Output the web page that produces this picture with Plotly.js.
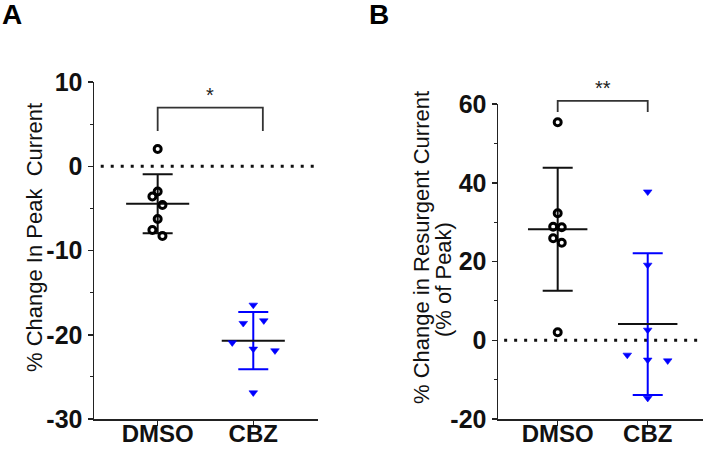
<!DOCTYPE html>
<html>
<head>
<meta charset="utf-8">
<script src="https://cdn.plot.ly/plotly-3.0.1.min.js"></script>
<style>html,body{margin:0;padding:0;background:#fff}#chart{width:709px;height:449px}</style>
</head>
<body>
<div id="chart"></div>
<script>
// ---- data ----
const categories = ["DMSO", "CBZ"];

// Panel A: % change in peak current
const peakDMSO = [2.05, -3.0, -3.6, -4.6, -6.26, -7.57, -8.28];
const peakDMSOJitter = [0, 0, -0.055, 0.05, 0, -0.055, 0.05];
const peakCBZ = [-16.47, -18.64, -18.33, -20.94, -21.69, -21.89, -26.88];
const peakCBZJitter = [0, -0.105, 0.11, -0.22, 0, 0.227, 0];
const peakMean = [-4.45, -20.7];
const peakSD = [3.5, 3.4];
const peakRange = [-30, 10];
const peakTicks = [-30, -20, -10, 0, 10];
const peakBracketX = [1, 2.1];
const peakBracketY = [6.95, 4.18];
const peakStarY = 8.5;
const peakStar = "*";

// Panel B: % change in resurgent current (% of peak)
const resDMSO = [55.35, 32.24, 28.84, 28.69, 25.89, 24.77, 2.02];
const resDMSOJitter = [0, 0, -0.05, 0.045, -0.05, 0.045, 0];
const resCBZ = [37.7, 19.1, 2.6, -3.75, -5.0, -5.2, -14.7];
const resCBZJitter = [0, 0, 0, -0.227, 0, 0.222, 0];
const resMean = [28.2, 4.1];
const resSD = [15.6, 18.0];
const resRange = [-20, 60];
const resTicks = [-20, 0, 20, 40, 60];
const resBracketX = [1, 2];
const resBracketY = [60.8, 58.0];
const resStarY = 64.0;
const resStar = "**";

// ---- helpers ----
const W = 709, H = 449;
const px = v => v / W;
const py = v => 1 - v / H;
const FONT = "Liberation Sans, Arial, Helvetica, sans-serif";
const AX = "#222";
const BLUE = "#0000ff";
const MEANHALF = 0.33;
const frac = (v, r) => (v - r[0]) / (r[1] - r[0]);

function summaryTrace(i, means, sds, color, xa, ya) {
  return {
    type: "scatter", mode: "markers", x: [i + 1], y: [means[i]],
    xaxis: xa, yaxis: ya, hoverinfo: "skip", showlegend: false,
    marker: {size: 1, color: "rgba(0,0,0,0)"},
    error_y: {type: "data", array: [sds[i]], visible: true, color: color, thickness: 2, width: 15},
    error_x: {type: "data", array: [MEANHALF], visible: true, color: "#111", thickness: 2, width: 0},
    cliponaxis: false
  };
}
function pointsTrace(cat, vals, jit, symbol, color, xa, ya) {
  const open = symbol.indexOf("open") >= 0;
  return {
    type: "scatter", mode: "markers",
    x: vals.map((v, k) => cat + jit[k]), y: vals,
    xaxis: xa, yaxis: ya, showlegend: false, cliponaxis: false,
    marker: open ? {symbol: symbol, size: 7, color: color, line: {width: 3, color: color}}
                 : {symbol: symbol, size: 7.5, color: color, line: {width: 0.6, color: color}}
  };
}

const data = [
  summaryTrace(0, peakMean, peakSD, "#111", "x", "y"),
  summaryTrace(1, peakMean, peakSD, BLUE, "x", "y"),
  pointsTrace(1, peakDMSO, peakDMSOJitter, "circle-open", "#000", "x", "y"),
  pointsTrace(2, peakCBZ, peakCBZJitter, "triangle-down", BLUE, "x", "y"),
  summaryTrace(0, resMean, resSD, "#111", "x2", "y2"),
  summaryTrace(1, resMean, resSD, BLUE, "x2", "y2"),
  pointsTrace(1, resDMSO, resDMSOJitter, "circle-open", "#000", "x2", "y2"),
  pointsTrace(2, resCBZ, resCBZJitter, "triangle-down", BLUE, "x2", "y2")
];

const tickFont = {family: FONT, size: 25, color: "#111", weight: "bold"};
const xTickFont = {family: FONT, size: 24, color: "#111", weight: "bold"};
function xAxis(domain, range, anchor) {
  return {
    domain: domain, range: range, anchor: anchor,
    showline: true, linewidth: 1.5, linecolor: AX,
    ticks: "outside", ticklen: 5, tickwidth: 1.5, tickcolor: AX,
    tickmode: "array", tickvals: [1, 2], ticktext: categories,
    ticklabelstandoff: -12,
    tickfont: xTickFont, showgrid: false, zeroline: false, fixedrange: true
  };
}
function yAxis(domain, range, ticks, minorStep, anchor) {
  return {
    domain: domain, range: range, anchor: anchor,
    showline: true, linewidth: 1.5, linecolor: AX,
    ticks: "outside", ticklen: 5, tickwidth: 1.5, tickcolor: AX,
    tickmode: "array", tickvals: ticks, ticktext: ticks.map(String),
    minor: {dtick: minorStep, tick0: 0, ticks: "outside", ticklen: 3, tickwidth: 1.2, tickcolor: AX, showgrid: false},
    tickfont: tickFont, showgrid: false, zeroline: false, fixedrange: true
  };
}

function bracket(xs, ys, range, xa, ya) {
  const yt = frac(ys[0], range), yl = frac(ys[1], range);
  return {
    type: "path", xref: xa, yref: ya + " domain",
    path: `M ${xs[0]},${yl} L ${xs[0]},${yt} L ${xs[1]},${yt} L ${xs[1]},${yl}`,
    line: {color: "#333", width: 1.8}
  };
}
function zeroLine(xref, yref) {
  return {
    type: "line", xref: xref + " domain", yref: yref, x0: 0.03, x1: 1, y0: 0, y1: 0,
    line: {color: "#111", width: 3, dash: "3px,7px"}, layer: "below"
  };
}
function star(text, xs, yv, range, xa, ya) {
  return {
    text: text, xref: xa, yref: ya + " domain", x: (xs[0] + xs[1]) / 2, y: frac(yv, range),
    xanchor: "center", yanchor: "middle",
    showarrow: false, font: {family: FONT, size: 20, color: "#222"}
  };
}
function label(text, x, y, size, angle, bold) {
  return {
    text: bold ? "<b>" + text + "</b>" : text, xref: "paper", yref: "paper",
    x: px(x), y: py(y), xanchor: "center", yanchor: "middle", textangle: angle || 0,
    showarrow: false, font: {family: FONT, size: size, color: bold ? "#000" : "#111"}
  };
}

const layout = {
  width: W, height: H, autosize: false,
  margin: {l: 0, r: 0, t: 0, b: 0},
  paper_bgcolor: "#fff", plot_bgcolor: "#fff",
  showlegend: false,
  font: {family: FONT, color: "#111"},
  xaxis: xAxis([px(94), px(318)], [0.334, 2.677], "y"),
  yaxis: yAxis([1 - 419 / H, 1 - 82 / H], peakRange, peakTicks, 5, "x"),
  xaxis2: xAxis([px(498), px(703)], [0.337, 2.614], "y2"),
  yaxis2: yAxis([1 - 419 / H, 1 - 104 / H], resRange, resTicks, 10, "x2"),
  shapes: [
    zeroLine("x", "y"), zeroLine("x2", "y2"),
    bracket(peakBracketX, peakBracketY, peakRange, "x", "y"),
    bracket(resBracketX, resBracketY, resRange, "x2", "y2")
  ],
  annotations: [
    label("A", 12, 15, 28, 0, true),
    label("B", 379, 15, 28, 0, true),
    label("% Change In Peak\u00a0 Current", 34, 238, 22, -90, false),
    label("% Change in Resurgent Current", 422, 248, 22, -90, false),
    label("(% of Peak)", 443, 280, 22, -90, false),
    star(peakStar, peakBracketX, peakStarY, peakRange, "x", "y"),
    star(resStar, resBracketX, resStarY, resRange, "x2", "y2")
  ]
};

Plotly.newPlot("chart", data, layout, {staticPlot: true, displayModeBar: false});
</script>
</body>
</html>
